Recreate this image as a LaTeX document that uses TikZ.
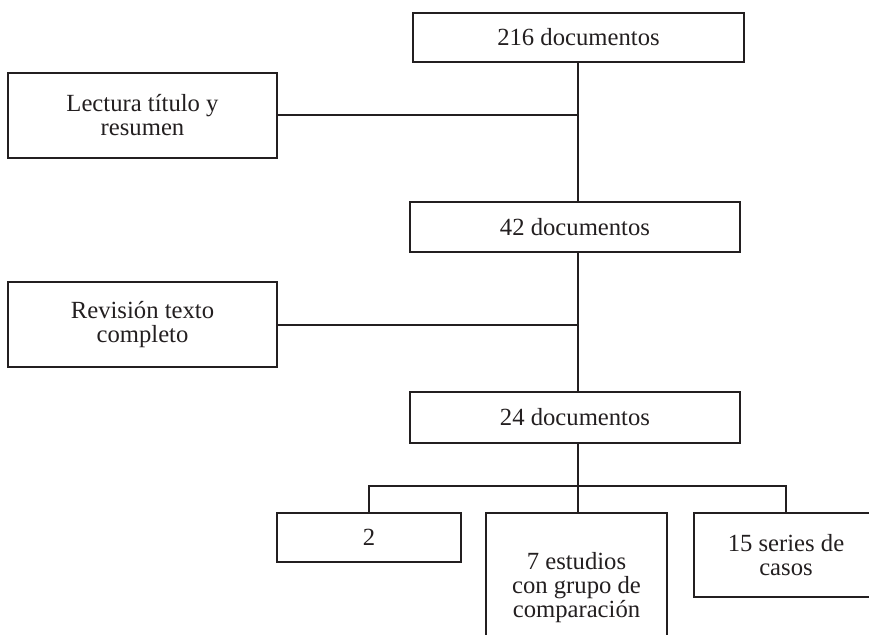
\documentclass[tikz,border=0pt]{standalone}
\usepackage{fontspec}
\setmainfont{Liberation Serif}
\definecolor{ink}{HTML}{231F20}
\begin{document}
\begin{tikzpicture}[x=0.75pt,y=-0.75pt,
  box/.style={draw=ink,line width=1.5pt,inner sep=0pt,align=center,text=ink,
    font=\fontsize{18.5pt}{18pt}\selectfont},
  link/.style={draw=ink,line width=1.5pt}]
\useasboundingbox (0,0) rectangle (869,635);
\clip (0,0) rectangle (869,635);
\node[box,minimum width=331*0.75pt,minimum height=49*0.75pt] (top) at (578.5,37.5) {216 documentos};
\node[box,minimum width=269*0.75pt,minimum height=85*0.75pt] (lect) at (142.5,115.5) {Lectura título y\\resumen};
\node[box,minimum width=330*0.75pt,minimum height=50*0.75pt] (d42) at (575,227) {42 documentos};
\node[box,minimum width=269*0.75pt,minimum height=85*0.75pt] (rev) at (142.5,324.5) {Revisión texto\\completo};
\node[box,minimum width=330*0.75pt,minimum height=51*0.75pt] (d24) at (575,417.5) {24 documentos};
\node[box,minimum width=184*0.75pt,minimum height=49*0.75pt] (two) at (369,537.5) {2};
\node[box,minimum width=181*0.75pt,minimum height=149*0.75pt] (seven) at (576.5,587.5) {7 estudios\\con grupo de\\comparación};
\node[box,minimum width=184*0.75pt,minimum height=84*0.75pt] (fifteen) at (786,555) {15 series de\\casos};
\coordinate (trunk) at (578,0);
\coordinate (bar) at (578,486);
\draw[link] (top.south -| trunk) -- (d42.north -| trunk);
\draw[link] (lect.east) -- (lect.east -| trunk);
\draw[link] (d42.south -| trunk) -- (d24.north -| trunk);
\draw[link] (rev.east) -- (rev.east -| trunk);
\draw[link] (d24.south -| trunk) -- (seven.north -| trunk);
\draw[link] (two.north) |- (bar) -| (fifteen.north);
\end{tikzpicture}
\end{document}
